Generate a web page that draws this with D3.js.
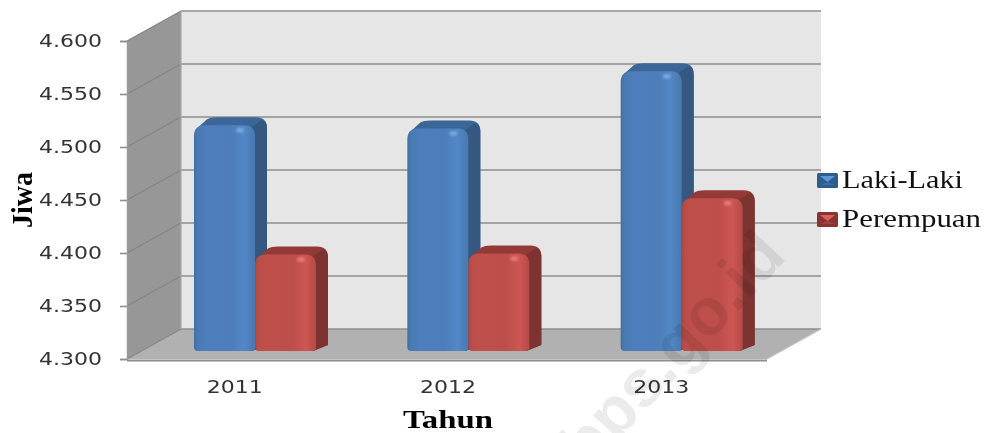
<!DOCTYPE html>
<html>
<head>
<meta charset="utf-8">
<script src="https://cdn.jsdelivr.net/npm/d3@7"></script>
<style>
  html, body { margin: 0; padding: 0; background: #fff; overflow: hidden; }
  svg { filter: blur(0.45px); }
</style>
</head>
<body>
<div id="chart"></div>
<script>
const years = ['2011', '2012', '2013'];
const lakiLaki = [4.513, 4.510, 4.564];
const perempuan = [4.391, 4.392, 4.444];
const yTicks = [4.3, 4.35, 4.4, 4.45, 4.5, 4.55, 4.6];
const seriesNames = ['Laki-Laki', 'Perempuan'];

const width = 986, height = 433;
const wall = { dx: 54, dy: -30 };
const barDepth = { dx: 12, dy: -8 };
const barLift = 8;

const fmt = d => d3.format('.3f')(d);

const svg = d3.select('#chart').append('svg')
  .attr('width', width)
  .attr('height', height)
  .style('display', 'block');

const defs = svg.append('defs');

function hGrad(id, stops) {
  const g = defs.append('linearGradient').attr('id', id);
  stops.forEach(s => g.append('stop').attr('offset', s[0]).attr('stop-color', s[1]));
}
hGrad('blueFront', [[0, '#3f6fa3'], [0.06, '#4a7ab2'], [0.2, '#4e7ebb'], [0.6, '#4d7dba'], [0.82, '#5387c6'], [1, '#4878b0']]);
hGrad('redFront', [[0, '#ad4643'], [0.06, '#bb4e4a'], [0.2, '#bf4f4b'], [0.6, '#bd4e4a'], [0.84, '#cd5652'], [1, '#b44a47']]);

const blur = defs.append('filter').attr('id', 'soft');
blur.append('feGaussianBlur').attr('stdDeviation', 1);

const x = d3.scaleBand().domain(years).range([127, 767]);
const y = d3.scaleLinear().domain([4.3, 4.6]).range([359, 41]);
const inner = d3.scaleBand().domain(seriesNames).range([67, 189]);

// walls
const walls = svg.append('g').attr('class', 'walls');
const x0 = x.range()[0], x1 = x.range()[1];
const line = d3.line();

walls.append('path')
  .attr('d', line([[x0 + wall.dx, y(4.6) + wall.dy], [x1 + wall.dx, y(4.6) + wall.dy], [x1 + wall.dx, y(4.3) + wall.dy], [x0 + wall.dx, y(4.3) + wall.dy]]) + 'Z')
  .attr('fill', '#e6e6e6');
walls.append('path')
  .attr('d', line([[x0, y(4.6)], [x0 + wall.dx, y(4.6) + wall.dy], [x0 + wall.dx, y(4.3) + wall.dy], [x0, y(4.3)]]) + 'Z')
  .attr('fill', '#979797');
walls.append('path')
  .attr('d', line([[x0, y(4.3)], [x0 + wall.dx, y(4.3) + wall.dy], [x1 + wall.dx, y(4.3) + wall.dy], [x1, y(4.3)]]) + 'Z')
  .attr('fill', '#b1b1b1');

walls.selectAll('.grid').data(yTicks).join('line')
  .attr('class', 'grid')
  .attr('x1', x0 + wall.dx).attr('x2', x1 + wall.dx)
  .attr('y1', d => y(d) + wall.dy).attr('y2', d => y(d) + wall.dy)
  .attr('stroke', '#8e8e8e').attr('stroke-width', 1.6);
walls.selectAll('.diag').data(yTicks).join('line')
  .attr('class', 'diag')
  .attr('x1', x0).attr('x2', x0 + wall.dx)
  .attr('y1', d => y(d)).attr('y2', d => y(d) + wall.dy)
  .attr('stroke', '#858585').attr('stroke-width', 1.2);
walls.append('line')
  .attr('x1', x0 + wall.dx).attr('x2', x0 + wall.dx)
  .attr('y1', y(4.6) + wall.dy).attr('y2', y(4.3) + wall.dy)
  .attr('stroke', '#a8a8a8').attr('stroke-width', 1.2);
walls.append('line')
  .attr('x1', x1).attr('x2', x1 + wall.dx)
  .attr('y1', y(4.3)).attr('y2', y(4.3) + wall.dy)
  .attr('stroke', '#c4c4c4').attr('stroke-width', 1.2);
walls.append('line')
  .attr('x1', x0).attr('x2', x1)
  .attr('y1', y(4.3) + 1.5).attr('y2', y(4.3) + 1.5)
  .attr('stroke', '#8e8e8e').attr('stroke-width', 2);

// axes
const yAxis = svg.append('g')
  .attr('transform', `translate(${x0},0)`)
  .call(d3.axisLeft(y).tickValues(yTicks).tickFormat(fmt).tickSize(7).tickPadding(18));
yAxis.select('.domain').attr('stroke', '#9a9a9a').attr('stroke-width', 1.5);
yAxis.selectAll('.tick line').attr('stroke', '#8e8e8e').attr('stroke-width', 1.6);
yAxis.selectAll('.tick text')
  .attr('fill', '#333')
  .attr('font-family', '"DejaVu Sans", sans-serif')
  .attr('font-size', 18)
  .attr('textLength', 63)
  .attr('lengthAdjust', 'spacingAndGlyphs');

const xAxis = svg.append('g')
  .attr('transform', `translate(1,${y(4.3)})`)
  .call(d3.axisBottom(x).tickSize(0).tickPadding(21.5));
xAxis.select('.domain').remove();
xAxis.selectAll('.tick text')
  .attr('fill', '#333')
  .attr('font-family', '"DejaVu Sans", sans-serif')
  .attr('font-size', 17.5)
  .attr('textLength', 56)
  .attr('lengthAdjust', 'spacingAndGlyphs');

// bars
const rows = [];
years.forEach((yr, i) => {
  rows.push({ year: yr, name: seriesNames[0], value: lakiLaki[i], front: 'url(#blueFront)', side: '#34587f', top: '#3b6697', spot: '#7fb0e6' });
  rows.push({ year: yr, name: seriesNames[1], value: perempuan[i], front: 'url(#redFront)', side: '#7d3431', top: '#933a37', spot: '#f08080' });
});

function frontPath(l, t, r, b) {
  const p = d3.path(), rad = 11, low = 4;
  p.moveTo(l, b - low);
  p.lineTo(l, t + rad);
  p.quadraticCurveTo(l, t, l + rad, t);
  p.lineTo(r - rad, t);
  p.quadraticCurveTo(r, t, r, t + rad);
  p.lineTo(r, b - low);
  p.quadraticCurveTo(r, b, r - low, b);
  p.lineTo(l + low, b);
  p.quadraticCurveTo(l, b, l, b - low);
  p.closePath();
  return p.toString();
}

function backPath(l, t, r, b) {
  const dx = barDepth.dx, dy = barDepth.dy, rad = 11;
  const p = d3.path();
  p.moveTo(l + 2, t + 4);
  p.lineTo(l + dx + 1, t + dy + 2);
  p.quadraticCurveTo(l + dx + 4, t + dy, l + dx + rad, t + dy);
  p.lineTo(r + dx - rad, t + dy);
  p.quadraticCurveTo(r + dx, t + dy, r + dx, t + dy + rad);
  p.lineTo(r + dx, b + dy + 2);
  p.lineTo(r - 3, b);
  p.closePath();
  return p.toString();
}

function sidePath(l, t, r, b) {
  const dx = barDepth.dx, dy = barDepth.dy;
  const p = d3.path();
  p.moveTo(r - 5, t + 3);
  p.lineTo(r + dx - 6, t + dy + 3);
  p.quadraticCurveTo(r + dx, t + dy + 3, r + dx, t + dy + 11);
  p.lineTo(r + dx, b + dy + 2);
  p.lineTo(r - 3, b);
  p.closePath();
  return p.toString();
}

const bars = svg.selectAll('.bar').data(rows).join('g').attr('class', 'bar');
const geom = d => {
  const l = x(d.year) + inner(d.name);
  return [l, y(d.value) - barLift, l + inner.bandwidth(), y(4.3) - barLift];
};
bars.append('path').attr('d', d => backPath(...geom(d))).attr('fill', d => d.top);
bars.append('path').attr('d', d => sidePath(...geom(d))).attr('fill', d => d.side);
bars.append('path').attr('d', d => frontPath(...geom(d))).attr('fill', d => d.front);
bars.append('ellipse')
  .attr('cx', d => geom(d)[2] - 15)
  .attr('cy', d => geom(d)[1] + 5)
  .attr('rx', 4).attr('ry', 2.5)
  .attr('fill', d => d.spot)
  .attr('opacity', 0.8)
  .attr('filter', 'url(#soft)');

// watermark sits over the bars
svg.append('text')
  .attr('transform', 'translate(588,472) rotate(-47)')
  .attr('font-family', '"Liberation Sans", sans-serif')
  .attr('font-weight', 'bold')
  .attr('font-size', 66)
  .attr('fill', '#000')
  .attr('opacity', 0.08)
  .text('bps.go.id');

// axis titles
svg.append('text')
  .attr('x', 448).attr('y', 427.5)
  .attr('text-anchor', 'middle')
  .attr('font-family', '"Liberation Serif", serif')
  .attr('font-weight', 'bold')
  .attr('font-size', 25)
  .attr('textLength', 90)
  .attr('lengthAdjust', 'spacingAndGlyphs')
  .text('Tahun');
svg.append('text')
  .attr('transform', 'translate(32,200) rotate(-90)')
  .attr('text-anchor', 'middle')
  .attr('font-family', '"Liberation Serif", serif')
  .attr('font-weight', 'bold')
  .attr('font-size', 30)
  .attr('textLength', 56)
  .attr('lengthAdjust', 'spacingAndGlyphs')
  .text('Jiwa');

// legend
const legendColors = [
  { outer: '#2f5c8f', light: '#5f97d6', dark: '#3a6ca6' },
  { outer: '#8a3431', light: '#d9625e', dark: '#a34340' }
];
const legendY = d3.scalePoint().domain(seriesNames).range([173, 212]);
const legend = svg.selectAll('.legend').data(seriesNames).join('g')
  .attr('class', 'legend')
  .attr('transform', d => `translate(817,${legendY(d)})`);
legend.append('rect')
  .attr('width', 21).attr('height', 15).attr('rx', 1.5)
  .attr('fill', (d, i) => legendColors[i].outer);
legend.append('path')
  .attr('d', line([[3, 3], [18, 3], [10.5, 9]]) + 'Z')
  .attr('fill', (d, i) => legendColors[i].light);
legend.append('path')
  .attr('d', line([[3, 12], [18, 12], [10.5, 9]]) + 'Z')
  .attr('fill', (d, i) => legendColors[i].dark);
legend.append('text')
  .attr('x', 25).attr('y', 15)
  .attr('font-family', '"Liberation Serif", serif')
  .attr('font-size', 26)
  .attr('fill', '#111')
  .attr('textLength', (d, i) => [121, 139][i])
  .attr('lengthAdjust', 'spacingAndGlyphs')
  .text(d => d);
</script>
</body>
</html>
